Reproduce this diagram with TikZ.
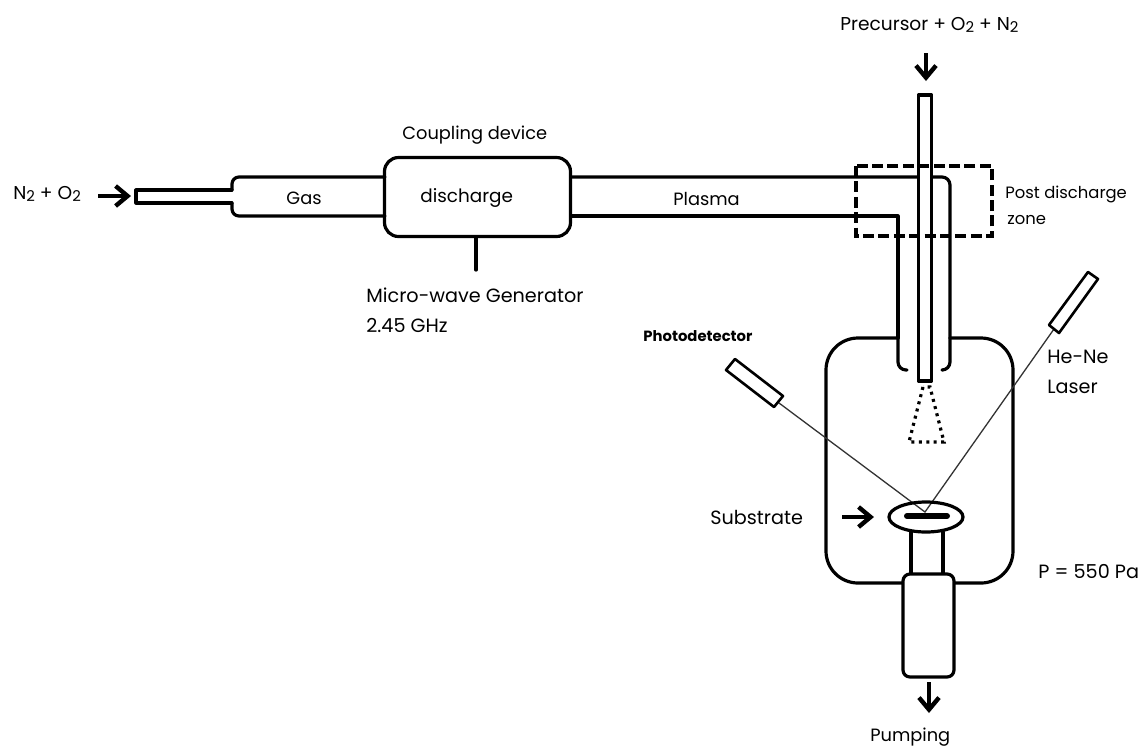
\documentclass[tikz,border=0pt]{standalone}
\usepackage{fontspec}
\setmainfont{Poppins}
\usetikzlibrary{arrows.meta}
\newcommand{\subtwo}{\raisebox{-0.2ex}{\scalebox{0.8}{2}}}
\tikzset{
  x=0.5pt,y=-0.5pt,
  wall/.style={line width=1.6pt,line join=round,line cap=round,black},
  thinwall/.style={line width=1.3pt,line join=round,black},
  beam/.style={line width=0.65pt,black!80},
  zone/.style={line width=2pt,dash pattern=on 5.5pt off 2.2pt,black},
  spray/.style={line width=1.6pt,dash pattern=on 1.5pt off 2.2pt,black},
  flow/.style={line width=2.2pt,black,-{Straight Barb[length=6pt,width=10pt,line width=2.2pt]}},
  lab/.style={inner sep=0pt,anchor=west,text=black,font=\fontsize{9.6pt}{11pt}\selectfont},
  midlab/.style={lab,font=\fontsize{9.2pt}{10pt}\selectfont},
  coup/.style={lab,font=\fontsize{8.9pt}{10pt}\selectfont},
  feedlab/.style={lab,font=\fontsize{9.3pt}{10pt}\selectfont},
  smalllab/.style={lab,font=\fontsize{8.2pt}{9pt}\selectfont},
  tinylab/.style={lab,font=\fontsize{7.4pt}{8pt}\selectfont\bfseries},
}
\begin{document}
\begin{tikzpicture}
\useasboundingbox[fill=white] (0,0) rectangle (1142,746);
% inlet and gas section
\draw[wall,rounded corners=3.5pt] (232,190) -- (232,177) -- (385,177);
\draw[wall,rounded corners=3.5pt] (232,203) -- (232,216) -- (385,216);
\draw[wall] (232,190) -- (136,190) -- (136,203) -- (232,203);
% discharge box
\node[draw,wall,rounded corners=7pt,minimum width=93pt,minimum height=39.5pt,inner sep=0pt] (dis) at (477.5,197) {};
% plasma tube
\draw[wall,rounded corners=4pt] (571,177) -- (950,177) -- (950,338);
\draw[wall] (571,216) -- (898,216) -- (898,338);
% chamber
\draw[wall,rounded corners=16pt] (898,338) -- (826,338) -- (826,583) -- (903,583);
\draw[wall,rounded corners=16pt] (950,338) -- (1013,338) -- (1013,583) -- (954,583);
% inner skirt of plasma tube
\draw[wall,rounded corners=4pt] (898,338) -- (898,370) -- (907,370);
\draw[wall,rounded corners=4pt] (950,338) -- (950,370) -- (943,370);
% central precursor tube
\draw[wall,fill=white] (918.5,381) -- (918.5,95) -- (931.5,95) -- (931.5,381) -- cycle;
% post discharge zone
\draw[zone] (856,166) rectangle (992,236);
% spray cone
\draw[spray] (923,387) -- (909,442) -- (944,442) -- (930,387) -- cycle;
% generator stub
\coordinate (gen) at (476,270);
\draw[wall] (dis.south -| gen) -- (gen);
% optics
\coordinate (spot) at (925,512);
\coordinate (detface) at (779,403);
\coordinate (laserface) at (1054,329);
\draw[beam] (detface) -- (spot) -- (laserface);
\draw[thinwall,fill=white] (735,359) -- (726,370) -- (774,407) -- (783,396) -- cycle;
\draw[thinwall,fill=white] (1088,272) -- (1098,279) -- (1059,333) -- (1049,325) -- cycle;
% substrate holder
\draw[wall] (926,517) ellipse [x radius=37,y radius=15];
\draw[line width=3pt,black,line cap=round] (907,516) -- (947,516);
\draw[wall] (911,532) -- (911,574);
\draw[wall] (943,532) -- (943,574);
\node[draw,wall,fill=white,rounded corners=3.5pt,minimum width=25.5pt,minimum height=51.5pt,inner sep=0pt] (pump) at (928.5,625.5) {};
% arrows
\coordinate (a1) at (98,196); \coordinate (a2) at (131,196);
\draw[flow] (a1) -- (a2);
\coordinate (b1) at (926,53); \coordinate (b2) at (926,81);
\draw[flow] (b1) -- (b2);
\coordinate (c1) at (842,517); \coordinate (c2) at (874,517);
\draw[flow] (c1) -- (c2);
\coordinate (d1) at (929,682); \coordinate (d2) at (929,713);
\draw[flow] (d1) -- (d2);
% labels
\node[feedlab] (t1) at (13,194) {N\subtwo\ + O\subtwo};
\node[coup] (t2) at (402,135) {Coupling device};
\node[coup] (t3) at (286,198) {Gas};
\node[midlab] (t4) at (420,198) {discharge};
\node[coup] (t5) at (673,199) {Plasma};
\node[lab] (t6) at (366,295) {Micro-wave Generator};
\node[lab] (t7) at (366,325) {2.45 GHz};
\node[feedlab] (t8) at (840,25) {Precursor + O\subtwo\ + N\subtwo};
\node[smalllab] (t9) at (1005,194) {Post discharge};
\node[smalllab] (t10) at (1007,220) {zone};
\node[tinylab] (t11) at (643,336) {Photodetector};
\node[lab] (t12) at (1047,357) {He-Ne};
\node[lab] (t13) at (1047,387) {Laser};
\node[lab] (t14) at (710,517) {Substrate};
\node[lab] (t15) at (1038,572) {P = 550 Pa};
\node[coup] (t16) at (870,737) {Pumping};
\end{tikzpicture}
\end{document}
